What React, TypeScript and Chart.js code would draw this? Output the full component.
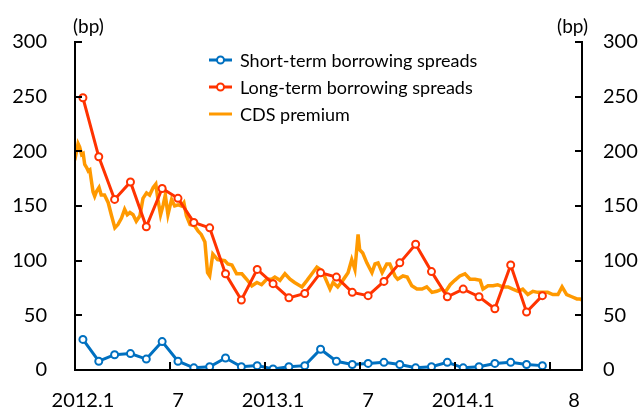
import React, { useEffect, useRef } from 'react';
import { Chart, registerables } from 'chart.js';

Chart.register(...registerables);

// Monthly observations (Jan 2012 – Jun 2014)
const months = [
  '2012-01', '2012-02', '2012-03', '2012-04', '2012-05', '2012-06',
  '2012-07', '2012-08', '2012-09', '2012-10', '2012-11', '2012-12',
  '2013-01', '2013-02', '2013-03', '2013-04', '2013-05', '2013-06',
  '2013-07', '2013-08', '2013-09', '2013-10', '2013-11', '2013-12',
  '2014-01', '2014-02', '2014-03', '2014-04', '2014-05', '2014-06',
];

const shortTermSpreads = [
  28, 8, 14, 15, 10, 26, 8, 2, 3, 11, 3, 4,
  1, 3, 4, 19, 8, 5, 6, 7, 5, 2, 3, 7,
  2, 3, 6, 7, 5, 4,
];

const longTermSpreads = [
  249, 195, 156, 172, 131, 166, 157, 135, 130, 88, 64, 92,
  79, 66, 70, 89, 85, 71, 68, 81, 98, 115, 90, 67,
  74, 67, 56, 96, 53, 68,
];

// CDS premium, market observations
const cdsDates = [
  '2012-01-02', '2012-01-04', '2012-01-07', '2012-01-10', '2012-01-14', '2012-01-17',
  '2012-01-20', '2012-01-24', '2012-01-27', '2012-01-30', '2012-02-02', '2012-02-05',
  '2012-02-08', '2012-02-11', '2012-02-16', '2012-02-20', '2012-02-26', '2012-03-04',
  '2012-03-10', '2012-03-17', '2012-03-23', '2012-03-30', '2012-04-05', '2012-04-10',
  '2012-04-15', '2012-04-21', '2012-04-27', '2012-05-04', '2012-05-10', '2012-05-17',
  '2012-05-23', '2012-05-30', '2012-06-04', '2012-06-08', '2012-06-13', '2012-06-18',
  '2012-06-22', '2012-06-27', '2012-07-04', '2012-07-10', '2012-07-17', '2012-07-23',
  '2012-07-28', '2012-08-02', '2012-08-09', '2012-08-18', '2012-08-25', '2012-08-31',
  '2012-09-07', '2012-09-12', '2012-09-16', '2012-09-22', '2012-10-01', '2012-10-15',
  '2012-10-21', '2012-10-29', '2012-11-07', '2012-11-17', '2012-11-26', '2012-12-06',
  '2012-12-16', '2012-12-25', '2013-01-04', '2013-01-14', '2013-01-20', '2013-01-30',
  '2013-02-08', '2013-02-17', '2013-02-25', '2013-03-11', '2013-03-21', '2013-04-01',
  '2013-04-09', '2013-04-18', '2013-04-24', '2013-05-04', '2013-05-10', '2013-05-19',
  '2013-05-29', '2013-06-08', '2013-06-15', '2013-06-21', '2013-06-27', '2013-06-30',
  '2013-07-06', '2013-07-14', '2013-07-24', '2013-07-30', '2013-08-05', '2013-08-13',
  '2013-08-22', '2013-08-28', '2013-09-07', '2013-09-12', '2013-09-22', '2013-09-30',
  '2013-10-09', '2013-10-19', '2013-10-29', '2013-11-07', '2013-11-17', '2013-11-26',
  '2013-12-06', '2013-12-12', '2013-12-22', '2013-12-31', '2014-01-10', '2014-01-20',
  '2014-01-30', '2014-02-08', '2014-02-17', '2014-02-22', '2014-03-03', '2014-03-13',
  '2014-03-22', '2014-04-01', '2014-04-11', '2014-04-20', '2014-04-30', '2014-05-09',
  '2014-05-19', '2014-05-29', '2014-06-07', '2014-06-17', '2014-06-26', '2014-07-06',
  '2014-07-16', '2014-07-24', '2014-08-02', '2014-08-12', '2014-08-22', '2014-08-28',
  '2014-08-31',
];

const cdsPremium = [
  206, 200, 207, 204, 197, 198,
  188, 185, 182, 183, 173, 163,
  159, 163, 167, 160, 160, 153,
  142, 130, 133, 139, 147, 142,
  144, 142, 136, 141, 157, 162,
  160, 167, 170, 156, 142, 151,
  160, 142, 156, 150, 151, 150,
  153, 141, 133, 132, 127, 124,
  117, 89, 86, 106, 101, 100,
  97, 96, 88, 88, 83, 77,
  80, 78, 83, 83, 85, 82,
  88, 83, 80, 76, 82, 89,
  94, 91, 85, 74, 80, 76,
  82, 89, 101, 92, 124, 110,
  107, 98, 89, 97, 98, 89,
  97, 97, 86, 83, 86, 85,
  77, 74, 74, 76, 71, 72,
  74, 71, 78, 82, 86, 88,
  83, 83, 82, 74, 77, 77,
  78, 76, 76, 74, 72, 74,
  69, 72, 71, 71, 71, 69,
  69, 76, 69, 67, 65, 65,
  64,
];

// Horizontal axis: Jan 2012 through Aug 2014
const axisStartMonth = '2012-01';
const axisEndMonth = '2014-09';
const xLabelMonths = ['2012-01', '2012-07', '2013-01', '2013-07', '2014-01', '2014-08'];
const xLabelTexts = ['2012.1', '7', '2013.1', '7', '2014.1', '8'];
const xTickMarkMonths = ['2012-07', '2013-01', '2013-07', '2014-01', '2014-07'];

const yMin = 0;
const yMax = 300;
const yStep = 50;
const unitLabel = '(bp)';

const BLUE = '#0070C0';
const RED = '#FF3300';
const ORANGE = '#FF9900';
const FONT = 'Lato';

function monthIndex(ym: string): number {
  const [y, m] = ym.split('-').map(Number);
  const [y0, m0] = axisStartMonth.split('-').map(Number);
  return (y - y0) * 12 + (m - m0);
}

function dayPosition(d: string): number {
  const [y, m, day] = d.split('-').map(Number);
  const daysInMonth = new Date(Date.UTC(y, m, 0)).getUTCDate();
  return monthIndex(`${y}-${String(m).padStart(2, '0')}`) + (day - 1) / daysInMonth;
}

const axesPlugin = {
  id: 'axesAndLegend',
  afterDraw(chart: any) {
    const { ctx, chartArea } = chart;
    const { left, right, top, bottom } = chartArea;
    const yScale = chart.scales.y;
    const xScale = chart.scales.x;
    ctx.save();
    ctx.strokeStyle = '#000';
    ctx.lineWidth = 2;
    ctx.lineCap = 'butt';
    ctx.beginPath();
    ctx.moveTo(left, top);
    ctx.lineTo(left, bottom);
    ctx.moveTo(right, top);
    ctx.lineTo(right, bottom);
    ctx.moveTo(left - 1, bottom);
    ctx.lineTo(right + 1, bottom);
    // inward ticks on both value axes
    yScale.ticks.forEach((t: any) => {
      const py = Math.round(yScale.getPixelForValue(t.value));
      ctx.moveTo(left - 1, py);
      ctx.lineTo(left + 7, py);
      ctx.moveTo(right + 1, py);
      ctx.lineTo(right - 7, py);
    });
    // inward ticks on the time axis
    xTickMarkMonths.forEach((m) => {
      const px = Math.round(xScale.getPixelForValue(monthIndex(m)));
      ctx.moveTo(px, bottom);
      ctx.lineTo(px, bottom - 8);
    });
    ctx.stroke();

    // unit labels
    ctx.fillStyle = '#000';
    ctx.font = `19px ${FONT}`;
    ctx.textBaseline = 'middle';
    ctx.textAlign = 'left';
    ctx.fillText(unitLabel, left - 2, 27);
    ctx.textAlign = 'right';
    ctx.fillText(unitLabel, right + 6, 27);

    // legend
    const lx = 209;
    const ly0 = 60;
    const gap = 27;
    ctx.font = `18px ${FONT}`;
    ctx.textAlign = 'left';
    chart.data.datasets.forEach((ds: any, i: number) => {
      const y = ly0 + i * gap;
      ctx.strokeStyle = ds.borderColor;
      ctx.lineWidth = 3;
      ctx.beginPath();
      ctx.moveTo(lx, y);
      ctx.lineTo(lx + 23, y);
      ctx.stroke();
      if (ds.pointRadius > 0) {
        ctx.beginPath();
        ctx.arc(lx + 11.5, y, 3.5, 0, Math.PI * 2);
        ctx.fillStyle = '#fff';
        ctx.fill();
        ctx.lineWidth = 2;
        ctx.stroke();
      }
      ctx.fillStyle = '#000';
      ctx.fillText(ds.label, lx + 31, y + 1);
    });
    ctx.restore();
  },
};

export default function App() {
  const canvasRef = useRef<HTMLCanvasElement | null>(null);

  useEffect(() => {
    if (!canvasRef.current) return;
    const monthly = (vals: number[]) =>
      vals.map((v, i) => ({ x: monthIndex(months[i]) + 0.5, y: v }));
    const cds = cdsPremium.map((v, i) => ({ x: dayPosition(cdsDates[i]), y: v }));
    const tickFont = { family: FONT, size: 20 };

    const chart = new Chart(canvasRef.current, {
      type: 'line',
      data: {
        datasets: [
          {
            label: 'Short-term borrowing spreads',
            data: monthly(shortTermSpreads),
            borderColor: BLUE,
            backgroundColor: '#fff',
            borderWidth: 3,
            pointRadius: 3.5,
            pointBorderWidth: 2,
            pointBackgroundColor: '#fff',
            pointBorderColor: BLUE,
            tension: 0,
          },
          {
            label: 'Long-term borrowing spreads',
            data: monthly(longTermSpreads),
            borderColor: RED,
            backgroundColor: '#fff',
            borderWidth: 3,
            pointRadius: 3.5,
            pointBorderWidth: 2,
            pointBackgroundColor: '#fff',
            pointBorderColor: RED,
            tension: 0,
          },
          {
            label: 'CDS premium',
            data: cds,
            borderColor: ORANGE,
            borderWidth: 3.5,
            pointRadius: 0,
            tension: 0,
          },
        ],
      },
      options: {
        responsive: false,
        animation: false,
        events: [],
        layout: { padding: { top: 42, left: 0, right: 0, bottom: 0 } },
        plugins: { legend: { display: false }, tooltip: { enabled: false } },
        scales: {
          x: {
            type: 'linear',
            min: monthIndex(axisStartMonth),
            max: monthIndex(axisEndMonth),
            grid: { display: false, drawTicks: false },
            border: { display: false },
            afterBuildTicks: (scale: any) => {
              scale.ticks = xLabelMonths.map((m) => ({ value: monthIndex(m) + 0.5 }));
            },
            afterFit: (scale: any) => {
              scale.height = 39;
            },
            ticks: {
              autoSkip: false,
              maxRotation: 0,
              padding: 19,
              color: '#000',
              font: tickFont,
              callback: (_v: any, i: number) => xLabelTexts[i],
            },
          },
          y: {
            position: 'left',
            min: yMin,
            max: yMax,
            grid: { display: false, drawTicks: false },
            border: { display: false },
            afterFit: (scale: any) => {
              scale.width = 75;
            },
            ticks: { stepSize: yStep, padding: 28, color: '#000', font: tickFont },
          },
          y2: {
            position: 'right',
            min: yMin,
            max: yMax,
            grid: { display: false, drawTicks: false },
            border: { display: false },
            afterFit: (scale: any) => {
              scale.width = 59;
            },
            ticks: { stepSize: yStep, padding: 21, color: '#000', font: tickFont },
          },
        },
      },
      plugins: [axesPlugin],
    });
    return () => chart.destroy();
  }, []);

  return (
    <div style={{ position: 'fixed', left: 0, top: 0, width: 641, height: 410, background: '#fff' }}>
      <canvas ref={canvasRef} width={641} height={410} style={{ display: 'block' }} />
    </div>
  );
}
